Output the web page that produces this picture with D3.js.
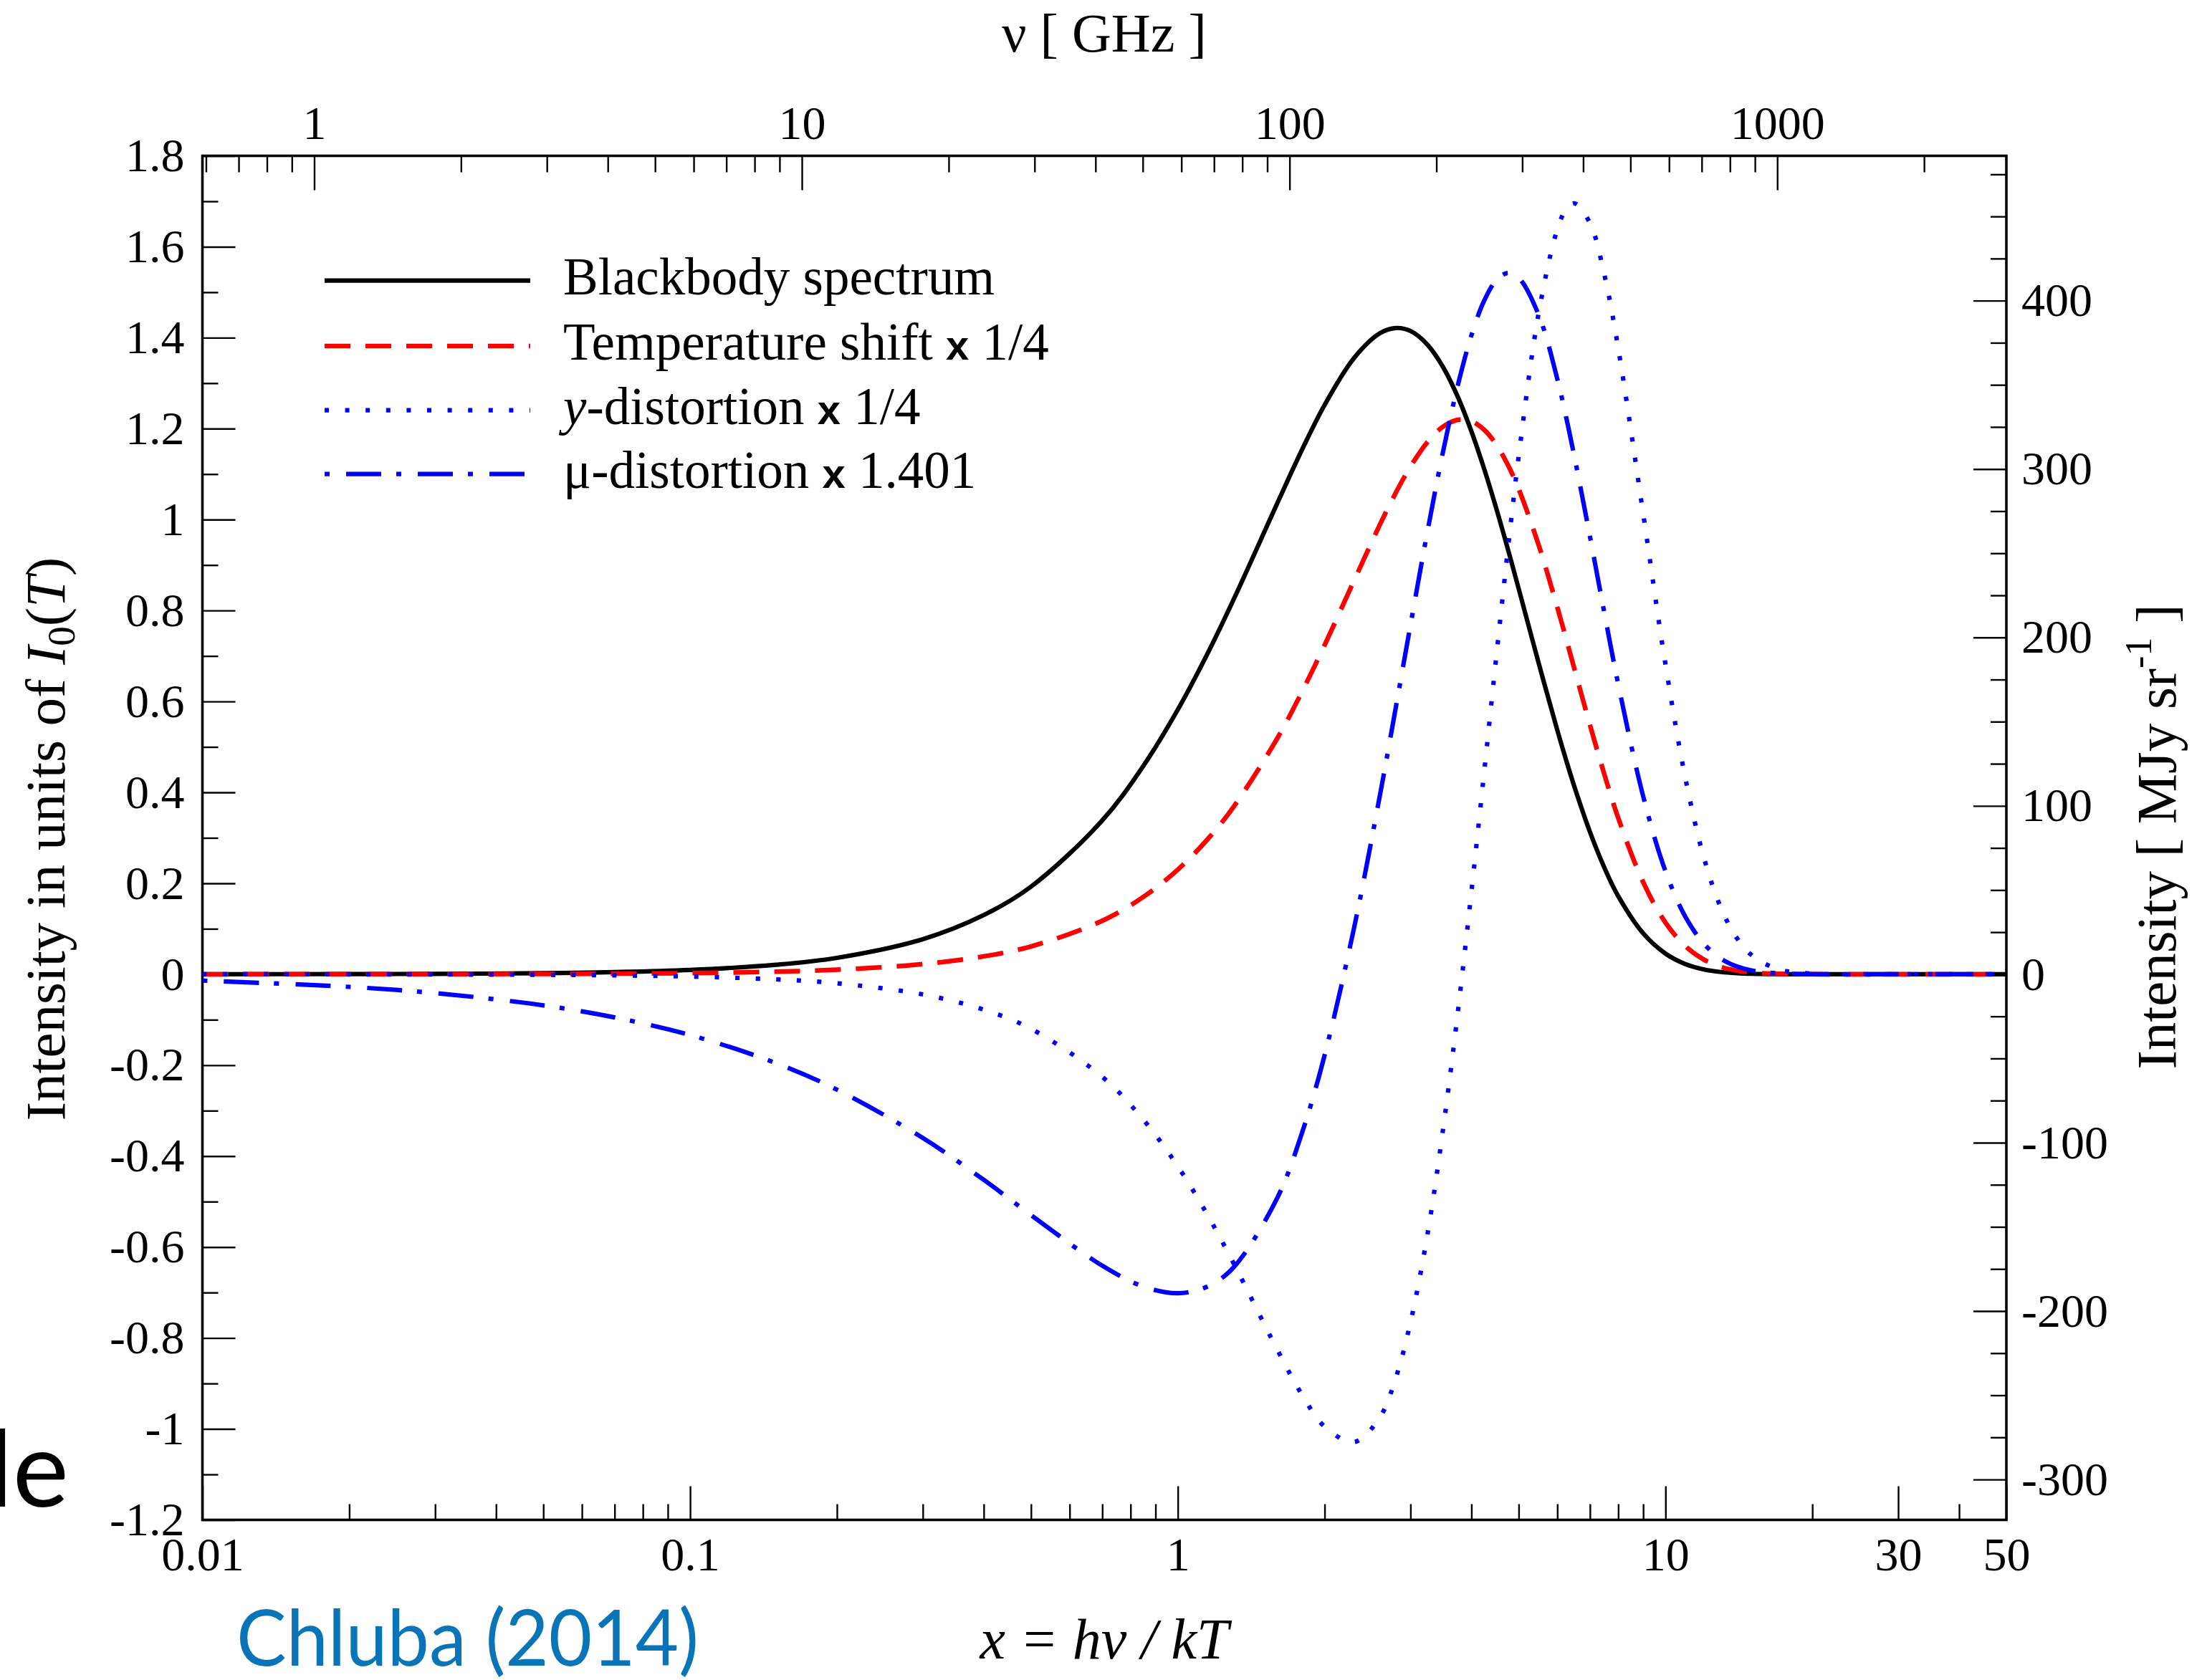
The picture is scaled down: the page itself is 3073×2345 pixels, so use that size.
<!DOCTYPE html>
<html><head><meta charset="utf-8">
<script src="https://cdn.jsdelivr.net/npm/d3@7"></script>
<style>html,body{margin:0;padding:0;background:#fff}svg{display:block}</style>
</head><body>
<svg id="chart" width="3073" height="2345"></svg>
<script>
// ---------------- data ----------------
const xValues = [0.01,0.02,0.03,0.05,0.07,0.1,0.15,0.2,0.3,0.4,0.5,0.7,0.85,1,1.15,1.3,1.6,1.8,2,2.3,2.6,2.8,3,3.25,3.5,3.75,4,4.25,4.5,4.75,5,5.5,6,6.25,6.5,7,7.5,8,9,10,11,12,13,14,15,17,20,30,50];
const blackbody = [0.0001,0.000396,0.000887,0.002438,0.00473,0.009508,0.020855,0.036133,0.077174,0.130128,0.192687,0.338347,0.458423,0.581977,0.7047,0.823062,1.036166,1.154932,1.252141,1.355779,1.41017,1.421335,1.414683,1.384738,1.335029,1.270058,1.194071,1.110849,1.023679,0.93531,0.847957,0.682727,0.536741,0.472214,0.413504,0.313061,0.233462,0.171814,0.089977,0.045402,0.02223,0.010617,0.004966,0.002282,0.001032,0.000203,0.0000165,0,0];
const tempShift = [0.000025,0.0001,0.000225,0.000625,0.001225,0.002498,0.005614,0.009967,0.022332,0.039471,0.061214,0.117618,0.170128,0.230169,0.296476,0.367708,0.519314,0.622642,0.724081,0.866444,0.990164,1.059345,1.116605,1.170474,1.204519,1.219351,1.21636,1.197352,1.164578,1.120379,1.067139,0.942604,0.807114,0.739262,0.672955,0.548356,0.437983,0.343743,0.202473,0.113511,0.061133,0.031852,0.016139,0.007986,0.003872,0.000864,0.0000824,0,0];
const yDistortion = [-0.00005,-0.0002,-0.00045,-0.00125,-0.002448,-0.004992,-0.011208,-0.019867,-0.04433,-0.077892,-0.119889,-0.225708,-0.319966,-0.4226,-0.529073,-0.63465,-0.825969,-0.925917,-0.99482,-1.02883,-0.973124,-0.88711,-0.765574,-0.572319,-0.339719,-0.085049,0.181553,0.446663,0.700035,0.932996,1.139532,1.456689,1.638295,1.681225,1.695559,1.652074,1.536577,1.376815,1.012812,0.681168,0.427956,0.254817,0.145256,0.07986,0.042587,0.011238,0.001319,0,0];
const muDistortion = [-0.01395,-0.02776,-0.041454,-0.06845,-0.0949,-0.1336,-0.1954,-0.25379,-0.36008,-0.45209,-0.52961,-0.64096,-0.68676,-0.70151,-0.68688,-0.64517,-0.49142,-0.34689,-0.17797,0.1037,0.39688,0.5877,0.76846,0.97372,1.1504,1.29471,1.40515,1.48187,1.52662,1.54211,1.53178,1.44906,1.30931,1.22686,1.14002,0.96271,0.79232,0.63789,0.39149,0.22655,0.12512,0.066545,0.0343,0.017217,0.00845,0.001925,0.000188,0,0];

const seriesNames = ["Blackbody spectrum","Temperature shift x 1/4","y-distortion x 1/4","\u03bc-distortion x 1.401"];

const GHZ_PER_X = 59.0;     // top axis: nu[GHz] = x * 59
const I0_MJY = 270;         // right axis: 1 unit of I0 = 270 MJy/sr

const bottomMajor = [0.01,0.1,1,10,30,50];
const bottomMinor = [0.02,0.03,0.04,0.05,0.06,0.07,0.08,0.09,0.2,0.3,0.4,0.5,0.6,0.7,0.8,0.9,2,3,4,5,6,7,8,9,20,40];
const topMajor = [1,10,100,1000];
const topMinor = [0.6,0.7,0.8,0.9,2,3,4,5,6,7,8,9,20,30,40,50,60,70,80,90,200,300,400,500,600,700,800,900,2000];
const leftMajor = [-1.2,-1,-0.8,-0.6,-0.4,-0.2,0,0.2,0.4,0.6,0.8,1,1.2,1.4,1.6,1.8];
const leftMinor = [-1.1,-0.9,-0.7,-0.5,-0.3,-0.1,0.1,0.3,0.5,0.7,0.9,1.1,1.3,1.5,1.7];
const rightMajor = [-300,-200,-100,0,100,200,300,400];
const rightMinor = [-275,-250,-225,-175,-150,-125,-75,-50,-25,25,50,75,125,150,175,225,250,275,325,350,375,425,450,475];

// ---------------- layout ----------------
const svg = d3.select('#chart');
const plot = {left:282.5, right:2800, top:217.5, bottom:2121.5};
const serif = '"Liberation Serif","Times New Roman",Times,serif';

const x = d3.scaleLog().domain([0.01,50]).range([plot.left,plot.right]);
const xTop = d3.scaleLog().domain([0.01*GHZ_PER_X, 50*GHZ_PER_X]).range([plot.left,plot.right]);
const y = d3.scaleLinear().domain([-1.2,1.8]).range([plot.bottom,plot.top]);
const yR = d3.scaleLinear().domain([-1.2*I0_MJY, 1.8*I0_MJY]).range([plot.bottom,plot.top]);

svg.append('rect').attr('width',3073).attr('height',2345).attr('fill','#fff');

function styleAxis(g){
  g.select('.domain').remove();
  g.selectAll('line').attr('stroke','#000').attr('stroke-width',2.4);
  g.selectAll('text').attr('font-family',serif).attr('font-size',66).attr('fill','#000');
}
const fmt = d => String(+(+d).toFixed(2));

// bottom
svg.append('g').attr('transform',`translate(0,${plot.bottom})`)
  .call(d3.axisBottom(x).tickValues(bottomMinor).tickSize(-22).tickFormat('')).call(styleAxis);
svg.append('g').attr('transform',`translate(0,${plot.bottom})`)
  .call(d3.axisBottom(x).tickValues(bottomMajor).tickSize(-47).tickPadding(24).tickFormat(fmt)).call(styleAxis);
// top
svg.append('g').attr('transform',`translate(0,${plot.top})`)
  .call(d3.axisTop(xTop).tickValues(topMinor).tickSize(-23).tickFormat('')).call(styleAxis);
svg.append('g').attr('transform',`translate(0,${plot.top})`)
  .call(d3.axisTop(xTop).tickValues(topMajor).tickSize(-48).tickPadding(24).tickFormat(fmt)).call(styleAxis);
// left
svg.append('g').attr('transform',`translate(${plot.left},0)`)
  .call(d3.axisLeft(y).tickValues(leftMinor).tickSize(-22).tickFormat('')).call(styleAxis);
svg.append('g').attr('transform',`translate(${plot.left},0)`)
  .call(d3.axisLeft(y).tickValues(leftMajor).tickSize(-46).tickPadding(25).tickFormat(fmt)).call(styleAxis);
// right
svg.append('g').attr('transform',`translate(${plot.right},0)`)
  .call(d3.axisRight(yR).tickValues(rightMinor).tickSize(-22).tickFormat('')).call(styleAxis);
svg.append('g').attr('transform',`translate(${plot.right},0)`)
  .call(d3.axisRight(yR).tickValues(rightMajor).tickSize(-46).tickPadding(21).tickFormat(fmt)).call(styleAxis);

// frame
svg.append('rect').attr('x',plot.left).attr('y',plot.top)
  .attr('width',plot.right-plot.left).attr('height',plot.bottom-plot.top)
  .attr('fill','none').attr('stroke','#000').attr('stroke-width',3.6);

// ---------------- curves ----------------
svg.append('clipPath').attr('id','clip').append('rect')
  .attr('x',plot.left).attr('y',plot.top).attr('width',plot.right-plot.left).attr('height',plot.bottom-plot.top);

const styles = [
  {color:'#000000', width:6.2, dash:null},
  {color:'#ff0000', width:6.5, dash:'36,21'},
  {color:'#0000ff', width:6.2, dash:'6,22.6'},
  {color:'#0000ff', width:6.2, dash:'7,23,49,21'}
];
const seriesValues = [blackbody, tempShift, yDistortion, muDistortion];
const line = d3.line().x(d=>x(d[0])).y(d=>y(d[1])).curve(d3.curveCatmullRom.alpha(0.5));
const cg = svg.append('g').attr('clip-path','url(#clip)');
seriesValues.forEach((vals,i)=>{
  cg.append('path').datum(xValues.map((v,j)=>[v,vals[j]]))
    .attr('d',line).attr('fill','none')
    .attr('stroke',styles[i].color).attr('stroke-width',styles[i].width)
    .attr('stroke-dasharray',styles[i].dash);
});

// ---------------- legend ----------------
const legendRowsY = [391.7, 483, 572.7, 661.7];
const lg = svg.append('g');
seriesNames.forEach((name,i)=>{
  const yy = legendRowsY[i];
  lg.append('line').attr('x1',453).attr('x2',740).attr('y1',yy).attr('y2',yy)
    .attr('stroke',styles[i].color).attr('stroke-width',styles[i].width)
    .attr('stroke-dasharray',styles[i].dash);
  const t = lg.append('text').attr('x',786).attr('y',yy+19)
    .attr('font-family',serif).attr('font-size',73).attr('fill','#000');
  let rest = name;
  if (rest.startsWith('y-')) {
    t.append('tspan').attr('font-style','italic').text('y');
    rest = rest.slice(1);
  }
  const k = rest.indexOf(' x ');
  if (k >= 0) {
    t.append('tspan').text(rest.slice(0,k+1));
    t.append('tspan').attr('font-family','"Liberation Sans",Arial,sans-serif').attr('font-weight','bold')
      .attr('font-size',58).text('x');
    t.append('tspan').text(rest.slice(k+2));
  } else {
    t.append('tspan').text(rest);
  }
});

// ---------------- axis titles ----------------
svg.append('text').attr('x',1541).attr('y',72).attr('text-anchor','middle')
  .attr('font-family',serif).attr('font-size',76).text('\u03bd [ GHz ]');

svg.append('text').attr('x',1541).attr('y',2315).attr('text-anchor','middle')
  .attr('font-family',serif).attr('font-size',80).attr('font-style','italic')
  .text('x = h\u03bd / kT');

const lt = svg.append('text').attr('transform','translate(90,1171) rotate(-90)')
  .attr('text-anchor','middle').attr('font-family',serif).attr('font-size',79);
lt.append('tspan').text('Intensity in units of ');
lt.append('tspan').attr('font-style','italic').text('I');
lt.append('tspan').attr('font-size',55).attr('dy',14).text('0');
lt.append('tspan').attr('dy',-14).text('(');
lt.append('tspan').attr('font-style','italic').text('T');
lt.append('tspan').text(')');

const rt = svg.append('text').attr('transform','translate(3036,1168) rotate(-90)')
  .attr('text-anchor','middle').attr('font-family',serif).attr('font-size',79);
rt.append('tspan').text('Intensity [ MJy sr');
rt.append('tspan').attr('font-size',52).attr('dy',-34).text('-1');
rt.append('tspan').attr('dy',34).text(' ]');

// ---------------- slide remnants ----------------
svg.append('text').attr('x',96).attr('y',2103).attr('text-anchor','end')
  .attr('font-family','Lato,"Open Sans",sans-serif').attr('font-size',148).attr('fill','#000').text('le');
svg.append('text').attr('x',330).attr('y',2325)
  .attr('font-family','Lato,"Open Sans",sans-serif').attr('font-size',108).attr('fill','#0a74b8')
  .attr('textLength',645).attr('lengthAdjust','spacingAndGlyphs').text('Chluba (2014)');
</script>
</body></html>
